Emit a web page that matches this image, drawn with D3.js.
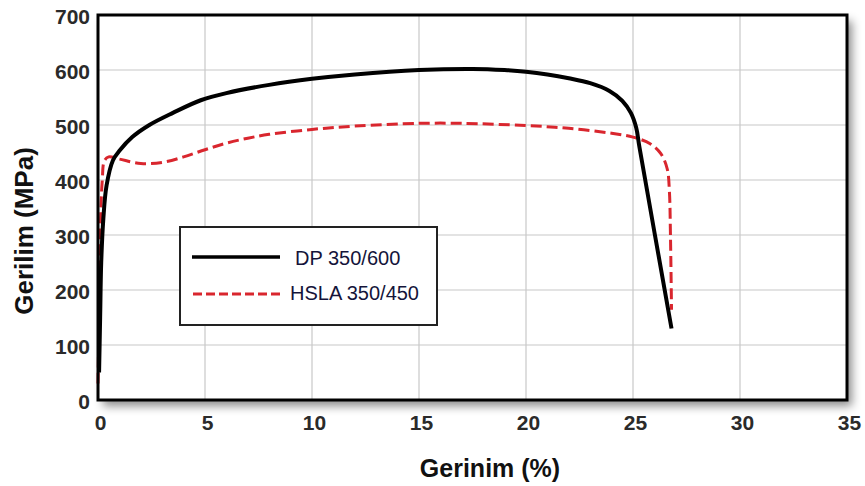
<!DOCTYPE html>
<html><head><meta charset="utf-8">
<script src="https://cdn.jsdelivr.net/npm/d3@7"></script>
<style>body{margin:0;background:#fff}svg{display:block}</style>
</head><body>
<svg id="c" width="865" height="486"></svg>
<script>
const xTicks = [0,5,10,15,20,25,30,35];
const yTicks = [0,100,200,300,400,500,600,700];
const seriesNames = ["DP 350/600","HSLA 350/450"];
const dpStrain = [0.05,0.1,0.15,0.25,0.4,0.7,1,1.6,2.4,3.5,4.8,6,8,10,12,15,17.5,19,20,21,22,23,23.9,24.5,24.9,25.15,25.3,26.8];
const dpStress = [50,150,250,330,390,436,453,478,500,522,545,558,573,584,592,600,602,600,597,592,585,576,562,544,522,495,460,130];
const hsStrain = [0.0,0.05,0.1,0.2,0.3,0.5,1,2,3,4,5,6,7,8,10,12,15,17,20,22,24,25,25.8,26.3,26.6,26.7,26.75,26.8];
const hsStress = [30,150,300,400,435,442,438,430,432,442,455,467,476,483,492,498,503,503,499,494,485,478,466,448,420,380,300,164];

const FONT = "Liberation Sans, Arial, sans-serif";
const svg = d3.select("#c");
const L=98, R=847, T=15, B=400;
const x = d3.scaleLinear().domain([0,35]).range([L,R]);
const y = d3.scaleLinear().domain([0,700]).range([B,T]);

const defs = svg.append("defs");
const f = defs.append("filter").attr("id","sh").attr("x","-5%").attr("y","-5%").attr("width","115%").attr("height","120%");
f.append("feDropShadow").attr("dx",5).attr("dy",6).attr("stdDeviation",5).attr("flood-color","#000").attr("flood-opacity",0.45);

svg.append("rect").attr("x",L).attr("y",T).attr("width",R-L).attr("height",B-T)
  .attr("fill","#fff").attr("filter","url(#sh)");

// grid
svg.append("g").selectAll("line").data(xTicks.slice(1,-1)).join("line")
  .attr("x1",d=>x(d)).attr("x2",d=>x(d)).attr("y1",T).attr("y2",B)
  .attr("stroke","#c8c8c8").attr("stroke-width",1.2);
svg.append("g").selectAll("line").data(yTicks.slice(1,-1)).join("line")
  .attr("y1",d=>y(d)).attr("y2",d=>y(d)).attr("x1",L).attr("x2",R)
  .attr("stroke","#c8c8c8").attr("stroke-width",1.2);

// axes labels via d3 axes
const xa = svg.append("g").attr("transform",`translate(2,${B})`)
  .call(d3.axisBottom(x).tickValues(xTicks).tickSize(0).tickPadding(15));
const ya = svg.append("g").attr("transform",`translate(${L},2)`)
  .call(d3.axisLeft(y).tickValues(yTicks).tickSize(0).tickPadding(8));
[xa,ya].forEach(a=>{
  a.select(".domain").remove();
  a.selectAll("text").attr("font-family",FONT)
   .attr("font-size",21).attr("font-weight","bold").attr("fill","#2a2a2a");
});

// lines
const line = d3.line().x(d=>x(d[0])).y(d=>y(d[1])).curve(d3.curveCatmullRom.alpha(0.5));
const dp = dpStrain.map((v,i)=>[v,dpStress[i]]);
const hs = hsStrain.map((v,i)=>[v,hsStress[i]]);
svg.append("path").datum(hs).attr("d",line).attr("fill","none")
  .attr("stroke","#d9262e").attr("stroke-width",3).attr("stroke-dasharray","11,5");
svg.append("path").datum(dp).attr("d",line).attr("fill","none")
  .attr("stroke","#000").attr("stroke-width",4).attr("stroke-linejoin","round");

// frame
svg.append("rect").attr("x",L).attr("y",T).attr("width",R-L).attr("height",B-T)
  .attr("fill","none").attr("stroke","#000").attr("stroke-width",3);

// legend
const lg = svg.append("g");
lg.append("rect").attr("x",180).attr("y",227).attr("width",257).attr("height",98)
  .attr("fill","#fff").attr("stroke","#222").attr("stroke-width",2);
lg.append("line").attr("x1",192).attr("x2",280).attr("y1",257).attr("y2",257)
  .attr("stroke","#000").attr("stroke-width",3.5);
lg.append("line").attr("x1",193).attr("x2",280).attr("y1",294).attr("y2",294)
  .attr("stroke","#d9262e").attr("stroke-width",3).attr("stroke-dasharray","9,4");
lg.selectAll("text").data(seriesNames).join("text")
  .attr("x",(d,i)=>i?290:295).attr("y",(d,i)=>i?300:265)
  .attr("font-family",FONT).attr("font-size",20)
  .attr("fill","#14143a").text(d=>d);

// titles
svg.append("text").attr("x",490).attr("y",477).attr("text-anchor","middle")
  .attr("font-family",FONT).attr("font-size",25)
  .attr("font-weight","bold").attr("fill","#111").text("Gerinim (%)");
svg.append("text").attr("transform","translate(33,231) rotate(-90)").attr("text-anchor","middle")
  .attr("font-family",FONT).attr("font-size",26)
  .attr("font-weight","bold").attr("fill","#111").text("Gerilim (MPa)");
</script>
</body></html>
